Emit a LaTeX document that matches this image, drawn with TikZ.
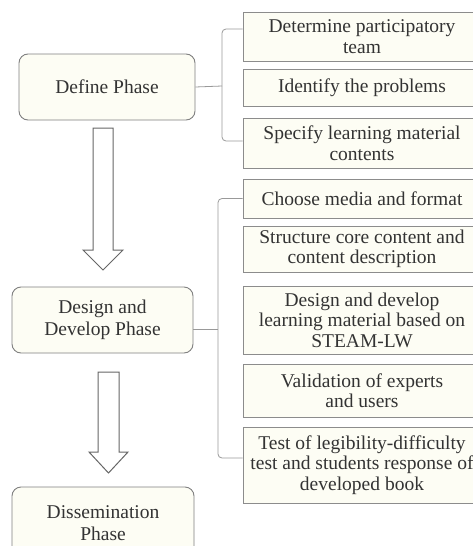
\documentclass[tikz,border=0pt]{standalone}
\usepackage{fontspec}
\setmainfont{Liberation Serif}
\begin{document}
\begin{tikzpicture}[x=1pt,y=-1pt,
  phase/.style={draw=black!50, line width=0.9pt, rounded corners=9pt, fill=cream, text=black!80,
    align=center, font=\fontsize{19.5}{21.5}\selectfont, inner sep=0pt},
  item/.style={draw=black!45, line width=0.9pt, fill=cream, text=black!80, align=center,
    font=\fontsize{19.5}{20.5}\selectfont, inner sep=0pt, minimum width=238pt},
  brace/.style={draw=black!40, line width=0.8pt, rounded corners=4pt},
  bigarrow/.style={draw=black!60, line width=1pt, fill=white}
]
\definecolor{cream}{HTML}{FDFDF4}
\useasboundingbox (0,0) rectangle (473,546);
\clip (0,0) rectangle (473,546);
\fill[white] (0,0) rectangle (473,546);

% phase boxes
\node[phase, minimum width=176pt, minimum height=66pt] (def) at (107,87) {Define Phase};
\node[phase, minimum width=181pt, minimum height=66pt] (des) at (102.5,320) {Design and\\Develop Phase};
\node[phase, minimum width=182pt, minimum height=72pt, text depth=0pt] (dis) at (103,523) {Dissemination\\Phase};

% right boxes
\node[item, minimum height=49pt] (r1) at (362,36.5) {Determine participatory\\team};
\node[item, minimum height=37pt] (r2) at (362,87.5) {Identify the problems};
\node[item, minimum height=50pt] (r3) at (362,143) {Specify learning material\\contents};
\node[item, minimum height=39pt] (r4) at (362,198.5) {Choose media and format};
\node[item, minimum height=46pt] (r5) at (362,249) {Structure core content and\\content description};
\node[item, minimum height=68pt] (r6) at (362,320) {Design and develop\\learning material based on\\STEAM-LW};
\node[item, minimum height=53pt] (r7) at (362,390.5) {Validation of experts\\and users};
\node[item, minimum height=76pt] (r8) at (362,465) {Test of legibility-difficulty\\test and students response of\\developed book};

% braces
\coordinate (k1) at (222,86);
\draw[brace] (def.east) -- (k1);
\draw[brace] ([yshift=7.5pt]r1.west) -| (k1) |- ([yshift=2pt]r3.west);
\coordinate (k2) at (218,329);
\draw[brace] (des.east |- k2) -- (k2);
\draw[brace] (r4.west) -| (k2) |- ([yshift=7pt]r8.west);

% big arrows
\draw[bigarrow] (93,128) -- (113,128) -- (113,250) -- (123,250) -- (103,270) -- (83,250) -- (93,250) -- cycle;
\draw[bigarrow] (98,372) -- (119,372) -- (119,452) -- (128,452) -- (108.5,473) -- (89,452) -- (98,452) -- cycle;
\end{tikzpicture}
\end{document}
